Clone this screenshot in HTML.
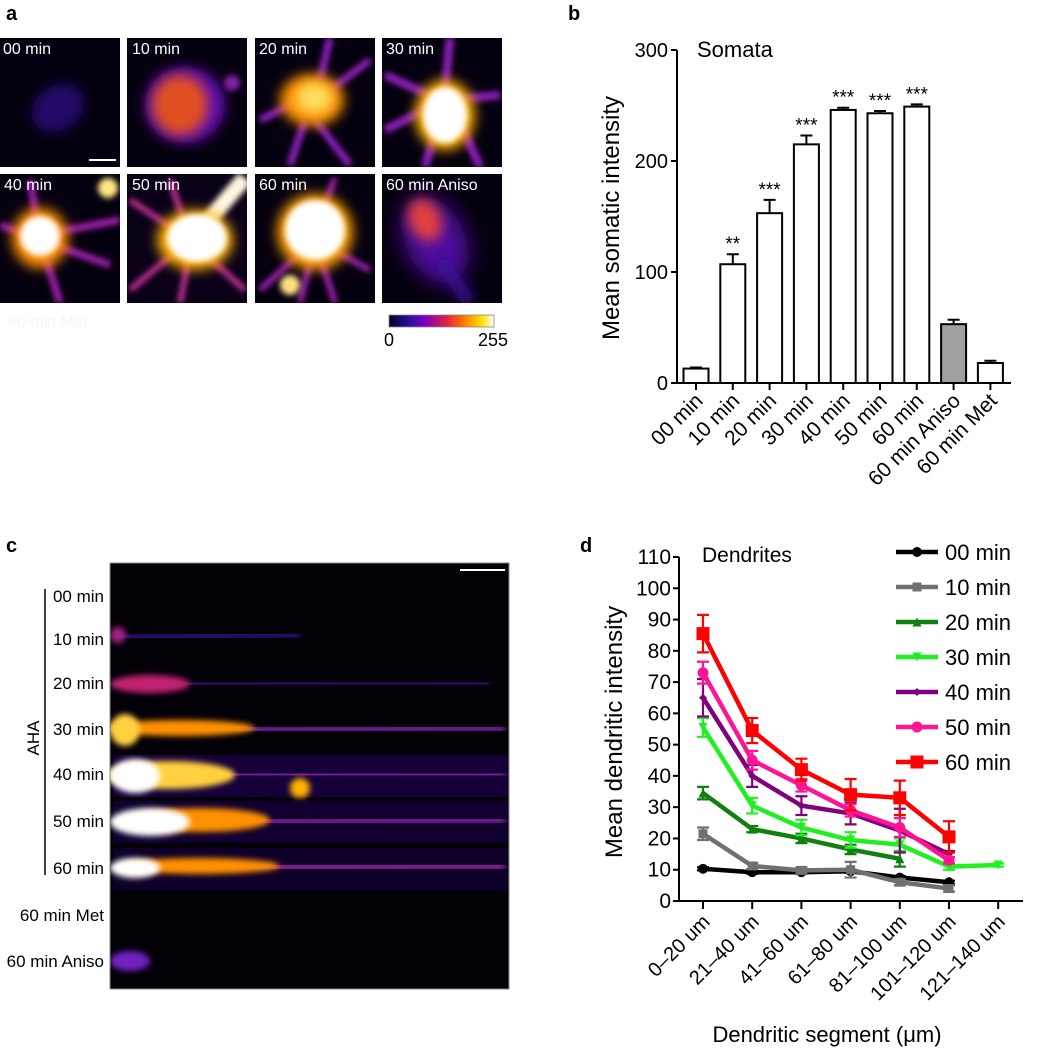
<!DOCTYPE html>
<html><head><meta charset="utf-8">
<style>
html,body{margin:0;padding:0;background:#fff;}
svg{display:block;font-family:"Liberation Sans",Arial,sans-serif;}
</style></head>
<body>
<svg id="fig" width="1038" height="1050" viewBox="0 0 1038 1050" xmlns="http://www.w3.org/2000/svg">
<defs>
<filter id="b3" x="-50%" y="-50%" width="200%" height="200%"><feGaussianBlur stdDeviation="3"/></filter>
<filter id="b6" x="-50%" y="-50%" width="200%" height="200%"><feGaussianBlur stdDeviation="6"/></filter>
<filter id="b10" x="-50%" y="-50%" width="200%" height="200%"><feGaussianBlur stdDeviation="10"/></filter>
<linearGradient id="lut" x1="0" x2="1">
<stop offset="0" stop-color="#000020"/><stop offset="0.2" stop-color="#3010a0"/><stop offset="0.35" stop-color="#8000c0"/>
<stop offset="0.55" stop-color="#e02040"/><stop offset="0.7" stop-color="#ff7000"/><stop offset="0.88" stop-color="#ffe000"/><stop offset="1" stop-color="#ffffff"/>
</linearGradient>
<clipPath id="cpa1"><rect x="0" y="38" width="120" height="129"/></clipPath>
<clipPath id="cpa2"><rect x="127" y="38" width="120" height="129"/></clipPath>
<clipPath id="cpa3"><rect x="255" y="38" width="120" height="129"/></clipPath>
<clipPath id="cpa4"><rect x="382" y="38" width="120" height="129"/></clipPath>
<clipPath id="cpa5"><rect x="0" y="174" width="120" height="129"/></clipPath>
<clipPath id="cpa6"><rect x="127" y="174" width="120" height="129"/></clipPath>
<clipPath id="cpa7"><rect x="255" y="174" width="120" height="129"/></clipPath>
<clipPath id="cpa8"><rect x="382" y="174" width="120" height="129"/></clipPath>
<clipPath id="cpc"><rect x="110" y="563" width="399" height="426"/></clipPath>
</defs>

<!-- Panel a -->
<text x="6" y="20" font-size="20" font-weight="bold">a</text>
<g clip-path="url(#cpa1)">
<rect x="0" y="38" width="120" height="129" fill="#05000f"/>
<ellipse cx="58" cy="108" rx="28" ry="22" fill="#2a0c80" opacity="0.8" filter="url(#b6)" transform="rotate(-35 58 108)"/>
</g>
<g clip-path="url(#cpa2)">
<rect x="127" y="38" width="120" height="129" fill="#05000f"/>
<ellipse cx="185" cy="105" rx="40" ry="38" fill="#6010b0" filter="url(#b6)"/>
<ellipse cx="180" cy="105" rx="28" ry="30" fill="#e05020" filter="url(#b6)"/>
<circle cx="232" cy="83" r="8" fill="#8020a0" filter="url(#b3)"/>
</g>
<g clip-path="url(#cpa3)">
<rect x="255" y="38" width="120" height="129" fill="#05000f"/>
<g stroke="#9020c0" stroke-width="7" filter="url(#b3)"><line x1="300" y1="100" x2="260" y2="120"/><line x1="330" y1="90" x2="370" y2="60"/><line x1="315" y1="120" x2="350" y2="165"/><line x1="305" y1="120" x2="290" y2="165"/><line x1="320" y1="80" x2="330" y2="38"/></g>
<ellipse cx="312" cy="100" rx="32" ry="26" fill="#ff9000" filter="url(#b6)"/>
<ellipse cx="314" cy="98" rx="18" ry="15" fill="#ffe060" filter="url(#b6)"/>
</g>
<g clip-path="url(#cpa4)">
<rect x="382" y="38" width="120" height="129" fill="#05000f"/>
<g stroke="#9020c0" stroke-width="8" filter="url(#b3)"><line x1="440" y1="100" x2="385" y2="75"/><line x1="445" y1="100" x2="385" y2="130"/><line x1="450" y1="100" x2="500" y2="95"/><line x1="445" y1="100" x2="425" y2="167"/><line x1="450" y1="100" x2="480" y2="167"/><line x1="445" y1="90" x2="450" y2="38"/></g>
<ellipse cx="445" cy="115" rx="30" ry="35" fill="#ffb000" filter="url(#b6)"/>
<ellipse cx="445" cy="115" rx="22" ry="28" fill="#ffffff" filter="url(#b3)"/>
</g>
<g clip-path="url(#cpa5)">
<rect x="0" y="174" width="120" height="129" fill="#05000f"/>
<g stroke="#a020b0" stroke-width="7" filter="url(#b3)"><line x1="40" y1="235" x2="120" y2="220"/><line x1="40" y1="240" x2="0" y2="225"/><line x1="40" y1="240" x2="60" y2="303"/><line x1="40" y1="240" x2="30" y2="180"/><line x1="40" y1="240" x2="110" y2="265"/></g>
<ellipse cx="40" cy="238" rx="28" ry="30" fill="#ff9000" filter="url(#b6)"/>
<ellipse cx="40" cy="236" rx="20" ry="20" fill="#ffffff" filter="url(#b3)"/>
<circle cx="108" cy="188" r="10" fill="#ffe880" filter="url(#b3)"/>
</g>
<g clip-path="url(#cpa6)">
<rect x="127" y="174" width="120" height="129" fill="#0a0018"/>
<g stroke="#c03090" stroke-width="6" filter="url(#b3)"><line x1="190" y1="240" x2="130" y2="200"/><line x1="190" y1="240" x2="130" y2="290"/><line x1="190" y1="250" x2="180" y2="303"/><line x1="200" y1="250" x2="245" y2="290"/><line x1="190" y1="240" x2="170" y2="180"/></g>
<line x1="200" y1="230" x2="245" y2="178" stroke="#fff8e0" stroke-width="16" filter="url(#b3)"/>
<ellipse cx="195" cy="240" rx="38" ry="30" fill="#ffb000" filter="url(#b6)"/>
<ellipse cx="197" cy="238" rx="30" ry="24" fill="#ffffff" filter="url(#b3)"/>
</g>
<g clip-path="url(#cpa7)">
<rect x="255" y="174" width="120" height="129" fill="#05000f"/>
<g stroke="#a020b0" stroke-width="6" filter="url(#b3)"><line x1="315" y1="240" x2="260" y2="290"/><line x1="315" y1="240" x2="370" y2="270"/><line x1="315" y1="240" x2="300" y2="303"/><line x1="315" y1="240" x2="335" y2="303"/><line x1="315" y1="230" x2="335" y2="178"/></g>
<ellipse cx="315" cy="232" rx="38" ry="38" fill="#ffa000" filter="url(#b6)"/>
<ellipse cx="315" cy="230" rx="30" ry="30" fill="#ffffff" filter="url(#b3)"/>
<circle cx="290" cy="285" r="10" fill="#ffe080" filter="url(#b3)"/>
</g>
<g clip-path="url(#cpa8)">
<rect x="382" y="174" width="120" height="129" fill="#05000f"/>
<ellipse cx="435" cy="240" rx="30" ry="45" fill="#5010a0" filter="url(#b10)" transform="rotate(-25 435 240)"/>
<line x1="440" y1="260" x2="470" y2="303" stroke="#3a1090" stroke-width="14" filter="url(#b6)"/>
<ellipse cx="425" cy="220" rx="16" ry="22" fill="#e04040" filter="url(#b6)" transform="rotate(-25 425 220)"/>
</g>
<g font-size="16" fill="#fff">
<text x="3" y="54">00 min</text>
<text x="132" y="54">10 min</text>
<text x="259" y="54">20 min</text>
<text x="386" y="54">30 min</text>
<text x="4" y="190">40 min</text>
<text x="132" y="190">50 min</text>
<text x="259" y="190">60 min</text>
<text x="386" y="190">60 min Aniso</text>
</g>
<line x1="89" y1="160" x2="116" y2="160" stroke="#fff" stroke-width="2"/>
<text x="8" y="327" font-size="16" fill="#f6f6f6">60 min Met</text>
<rect x="389" y="315" width="105" height="12" fill="url(#lut)" stroke="#888" stroke-width="0.8"/>
<text x="389" y="346" font-size="18" text-anchor="middle">0</text>
<text x="493" y="346" font-size="18" text-anchor="middle">255</text>

<!-- Panel c -->
<text x="6" y="552" font-size="20" font-weight="bold">c</text>
<g clip-path="url(#cpc)">
<rect x="110" y="563" width="399" height="426" fill="#030008"/>
<g><line x1="113" y1="637" x2="300" y2="635" stroke="#4010a0" stroke-width="5" filter="url(#b3)"/><circle cx="118" cy="635" r="8" fill="#a02080" filter="url(#b3)"/></g>
<g><line x1="113" y1="684" x2="490" y2="683" stroke="#6010b0" stroke-width="5" filter="url(#b3)"/><ellipse cx="150" cy="684" rx="40" ry="9" fill="#c02070" filter="url(#b3)"/></g>
<g><line x1="113" y1="730" x2="505" y2="728" stroke="#8020b0" stroke-width="7" filter="url(#b3)"/><ellipse cx="180" cy="728" rx="75" ry="8" fill="#ff9000" filter="url(#b3)"/><ellipse cx="125" cy="730" rx="15" ry="16" fill="#ffd040" filter="url(#b3)"/></g>
<g><rect x="113" y="755" width="396" height="42" fill="#200050" opacity="0.7"/><line x1="113" y1="775" x2="505" y2="774" stroke="#9020b0" stroke-width="7" filter="url(#b3)"/><ellipse cx="170" cy="775" rx="65" ry="14" fill="#ffd040" filter="url(#b3)"/><ellipse cx="135" cy="776" rx="25" ry="17" fill="#ffffff" filter="url(#b3)"/><circle cx="300" cy="788" r="10" fill="#ffb000" filter="url(#b3)"/></g>
<g><rect x="113" y="801" width="396" height="42" fill="#180040" opacity="0.7"/><line x1="113" y1="822" x2="505" y2="820" stroke="#9020b0" stroke-width="6" filter="url(#b3)"/><ellipse cx="200" cy="820" rx="70" ry="12" fill="#ff9000" filter="url(#b3)"/><ellipse cx="150" cy="822" rx="40" ry="14" fill="#ffffff" filter="url(#b3)"/></g>
<g><rect x="113" y="848" width="396" height="42" fill="#180040" opacity="0.6"/><line x1="113" y1="868" x2="505" y2="866" stroke="#a020a0" stroke-width="7" filter="url(#b3)"/><ellipse cx="200" cy="866" rx="80" ry="8" fill="#ff9000" filter="url(#b3)"/><ellipse cx="135" cy="868" rx="25" ry="10" fill="#ffffff" filter="url(#b3)"/></g>
<g><line x1="113" y1="962" x2="505" y2="962" stroke="#3010a0" stroke-width="8" filter="url(#b3)"/><ellipse cx="130" cy="961" rx="20" ry="10" fill="#7020c0" filter="url(#b3)"/></g>
</g>
<rect x="110" y="563" width="399" height="426" fill="none" stroke="#888" stroke-width="1"/>
<line x1="460" y1="570" x2="505" y2="570" stroke="#fff" stroke-width="2"/>
<line x1="45" y1="589" x2="45" y2="875" stroke="#000" stroke-width="1.5"/>
<text x="0" y="0" transform="translate(39 738) rotate(-90)" font-size="17" text-anchor="middle">AHA</text>
<g font-size="17" text-anchor="end">
<text x="104" y="602">00 min</text>
<text x="104" y="645">10 min</text>
<text x="104" y="689">20 min</text>
<text x="104" y="735">30 min</text>
<text x="104" y="780">40 min</text>
<text x="104" y="827">50 min</text>
<text x="104" y="874">60 min</text>
<text x="104" y="921">60 min Met</text>
<text x="104" y="967">60 min Aniso</text>
</g>

<!-- Panel b -->
<text x="568" y="20" font-size="20" font-weight="bold">b</text>
<g id="chartB"></g>
<!-- Panel d -->
<text x="580" y="552" font-size="20" font-weight="bold">d</text>
<g id="chartD"></g>
</svg>
<script>
const bCategories = ["00 min","10 min","20 min","30 min","40 min","50 min","60 min","60 min Aniso","60 min Met"];
const bValues = [13,107,153,215,246,243,249,53,18];
const bErrors = [1,9,12,8,2,2,2,4,2];
const bStars = ["","**","***","***","***","***","***","",""];
const bFills = ["#fff","#fff","#fff","#fff","#fff","#fff","#fff","#a0a0a2","#fff"];
const bTicks = [0,100,200,300];

const dCategories = ["0\u201320 um","21\u201340 um","41\u201360 um","61\u201380 um","81\u2013100 um","101\u2013120 um","121\u2013140 um"];
const dTicks = [0,10,20,30,40,50,60,70,80,90,100,110];
const dSeriesNames = ["00 min","10 min","20 min","30 min","40 min","50 min","60 min"];
const d00 = [10.3,9.2,9.2,9.5,7.5,6,null];
const d10 = [21.5,11.2,9.8,10,6,4,null];
const d20 = [34.5,23,20,16.5,13.5,null,null];
const d30 = [55.5,30.5,23.5,19.5,18,11,11.5];
const d40 = [65,40,30.5,28,22.5,15,null];
const d50 = [73,45,37,29,23.5,13,null];
const d60 = [85.5,54.5,42,34,33,20.5,null];
const e00 = [0.5,0.5,0.5,0.5,0.5,0.5,0];
const e10 = [2,1,1,2.5,1,1,0];
const e20 = [2,1,1.5,1.5,2.5,0,0];
const e30 = [3,2.5,2.5,2.5,2,1,0.5];
const e40 = [6,3.5,3,3.5,7,1,0];
const e50 = [3.5,3,2,2,3,1,0];
const e60 = [6,4,3.5,5,5.5,5,0];
const dColors = ["#000","#707070","#108010","#20f020","#800080","#ff1493","#ff0000"];
const dMarkers = ["circle","square","tri","itri","diamond","circle","square"];

const NS="http://www.w3.org/2000/svg";
function mk(tag,attrs,parent){const e=document.createElementNS(NS,tag);for(const k in attrs)e.setAttribute(k,attrs[k]);parent.appendChild(e);return e;}

// Chart B
(function(){
const g=document.getElementById('chartB');
const x0=677,x1=1011,yb=383,yt=50;
const y=v=>yb-(v/300)*(yb-yt);
const xc=i=>696+i*36.8;
const bw=25;
const ax=mk('path',{d:`M${x0} ${yt} V${yb} H${x1}`,stroke:'#000','stroke-width':2,fill:'none'},g);


bTicks.forEach(t=>{
 mk('line',{x1:x0-6,x2:x0,y1:y(t),y2:y(t),stroke:'#000','stroke-width':2},g);
 const tx=mk('text',{x:x0-9,y:y(t)+7,'font-size':20,'text-anchor':'end'},g);tx.textContent=t;
 
 
});
bValues.forEach((v,i)=>{
 const cx=xc(i);
 const er=mk('path',{d:`M${cx} ${y(v)} V${y(v+bErrors[i])} M${cx-6} ${y(v+bErrors[i])} H${cx+6}`,stroke:'#000','stroke-width':2,fill:'none'},g);
 
 
 const r=mk('rect',{x:cx-bw/2,y:y(v),width:bw,height:yb-y(v),fill:bFills[i],stroke:'#000','stroke-width':2},g);
 
 
 mk('line',{x1:cx,x2:cx,y1:yb,y2:yb+7,stroke:'#000','stroke-width':2},g);
 if(bStars[i]){const s=mk('text',{x:cx,y:y(v+bErrors[i])-4,'font-size':19,'text-anchor':'middle'},g);s.textContent=bStars[i];
 
 }
 const t=mk('text',{x:0,y:0,'font-size':21,'text-anchor':'end',transform:`translate(${cx+8} ${yb+19}) rotate(-45)`},g);t.textContent=bCategories[i];
 
 
});
const yl=mk('text',{x:0,y:0,'font-size':24,'text-anchor':'middle',transform:`translate(619 218) rotate(-90)`},g);yl.textContent='Mean somatic intensity';


const tt=mk('text',{x:697,y:57,'font-size':22},g);tt.textContent='Somata';


})();

// Chart D
(function(){
const g=document.getElementById('chartD');
const x0=679,x1=1023,yb=901,yt=557;
const y=v=>yb-(v/110)*(yb-yt);
const xc=i=>703+i*49.2;
const ax=mk('path',{d:`M${x0} ${yt} V${yb} H${x1}`,stroke:'#000','stroke-width':2,fill:'none'},g);


dTicks.forEach(t=>{
 mk('line',{x1:x0-6,x2:x0,y1:y(t),y2:y(t),stroke:'#000','stroke-width':2},g);
 const tx=mk('text',{x:x0-8,y:y(t)+7,'font-size':21,'text-anchor':'end'},g);tx.textContent=t;
 
 
});
dCategories.forEach((c,i)=>{
 const cx=xc(i);
 mk('line',{x1:cx,x2:cx,y1:yb,y2:yb+8,stroke:'#000','stroke-width':2},g);
 const t=mk('text',{x:0,y:0,'font-size':20,'text-anchor':'end',transform:`translate(${cx+8} ${yb+22}) rotate(-45)`},g);t.textContent=c;
 
 
});
function marker(type,cx,cy,col,s,parent){
 if(type==='circle')return mk('circle',{cx,cy,r:s*0.55,fill:col},parent);
 if(type==='square')return mk('rect',{x:cx-s/2,y:cy-s/2,width:s,height:s,fill:col},parent);
 if(type==='tri')return mk('path',{d:`M${cx} ${cy-s/2} L${cx+s/2} ${cy+s/2} L${cx-s/2} ${cy+s/2}Z`,fill:col},parent);
 if(type==='itri')return mk('path',{d:`M${cx} ${cy+s/2} L${cx+s/2} ${cy-s/2} L${cx-s/2} ${cy-s/2}Z`,fill:col},parent);
 return mk('path',{d:`M${cx} ${cy-s/2} L${cx+s/2} ${cy} L${cx} ${cy+s/2} L${cx-s/2} ${cy}Z`,fill:col},parent);
}
const series=[d00,d10,d20,d30,d40,d50,d60];
const errs=[e00,e10,e20,e30,e40,e50,e60];
const sizes=[9,9,9,9,8,10,13];
series.forEach((vals,si)=>{
 const sg=mk('g',{},g);
 
 
 const col=dColors[si];
 let d='';
 vals.forEach((v,i)=>{if(v==null)return;d+=(d?'L':'M')+xc(i)+' '+y(v);});
 mk('path',{d,stroke:col,'stroke-width':4.5,fill:'none','stroke-linejoin':'round'},sg);
 vals.forEach((v,i)=>{
  if(v==null)return;
  const e=errs[si][i];const cx=xc(i);
  if(e>0){mk('path',{d:`M${cx} ${y(v-e)} V${y(v+e)} M${cx-6} ${y(v+e)} H${cx+6} M${cx-6} ${y(v-e)} H${cx+6}`,stroke:col,'stroke-width':2.2,fill:'none'},sg);}
  const m=marker(dMarkers[si],cx,y(v),col,sizes[si],sg);
  
  
 });
 const ly=552+si*35;
 const lg=mk('g',{},g);
 
 
 mk('line',{x1:896,x2:938,y1:ly,y2:ly,stroke:col,'stroke-width':4.5},lg);
 marker(dMarkers[si],917,ly,col,sizes[si],lg);
 const lt=mk('text',{x:945,y:ly+8,'font-size':22},lg);lt.textContent=dSeriesNames[si];
});
const tt=mk('text',{x:702,y:562,'font-size':21},g);tt.textContent='Dendrites';


const yl=mk('text',{x:0,y:0,'font-size':24,'text-anchor':'middle',transform:`translate(622 732) rotate(-90)`},g);yl.textContent='Mean dendritic intensity';


const xl=mk('text',{x:827,y:1042,'font-size':22,'text-anchor':'middle'},g);xl.textContent='Dendritic segment (\u03bcm)';


})();
</script>
</body></html>
